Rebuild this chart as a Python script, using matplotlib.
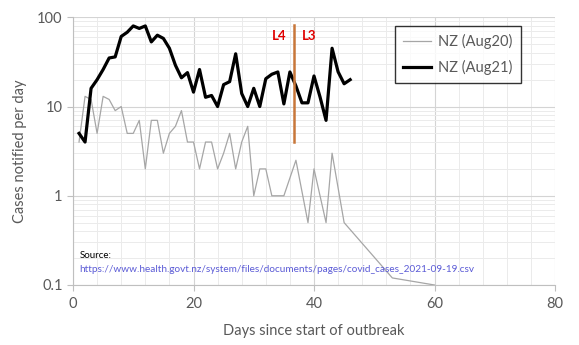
import matplotlib
matplotlib.use('Agg')
import matplotlib.pyplot as plt
from matplotlib.ticker import FixedLocator, NullFormatter

# data
days_aug20 = [1, 2, 3, 4, 5, 6, 7, 8, 9, 10, 11, 12, 13, 14, 15, 16, 17, 18, 19, 20,
              21, 22, 23, 24, 25, 26, 27, 28, 29, 30, 31, 32, 33, 34, 35, 37, 39, 40,
              42, 43, 45, 53, 60]
cases_aug20 = [4, 13, 12, 5, 13, 12, 9, 10, 5, 5, 7, 2, 7, 7, 3, 5, 6, 9, 4, 4,
               2, 4, 4, 2, 3, 5, 2, 4, 6, 1, 2, 2, 1, 1, 1, 2.5, 0.5, 2,
               0.5, 3, 0.5, 0.12, 0.1]

days_aug21 = list(range(1, 47))
cases_aug21 = [5, 4, 16, 20, 26, 35, 36, 61, 68, 80, 75, 80, 53, 63, 58, 45, 29, 21, 24, 14.5,
               26, 12.7, 13.3, 10, 17.6, 19, 39, 14, 10, 16, 10, 20.5, 23, 24.4, 10.7, 24.4,
               17, 11, 11, 22, 12.8, 7, 45, 24.5, 18, 20]

level_change_day = 36.7
level_line = [4, 82]

plt.rcParams['font.family'] = ['Lato', 'DejaVu Sans']
txt = '#595959'

fig = plt.figure(figsize=(5.79, 3.45), dpi=100)
ax = fig.add_axes([73/579, 1-285/345, (555-73)/579, (285-17.3)/345])

ax.plot(days_aug20, cases_aug20, color='#a6a6a6', lw=0.9, label='NZ (Aug20)', zorder=3)
ax.plot(days_aug21, cases_aug21, color='black', lw=2.3, label='NZ (Aug21)', zorder=4)
ax.plot([level_change_day, level_change_day], level_line, color='#c8773a', lw=1.8, zorder=5)

ax.text(level_change_day - 1.3, 62, 'L4', color='#e00000', fontweight='bold', fontsize=9.5, ha='right', va='center')
ax.text(level_change_day + 1.3, 62, 'L3', color='#e00000', fontweight='bold', fontsize=9.5, ha='left', va='center')

ax.set_yscale('log')
ax.set_xlim(0, 80)
ax.set_ylim(0.1, 100)
ax.set_xticks([0, 20, 40, 60, 80])
ax.set_yticks([0.1, 1, 10, 100])
ax.set_yticklabels(['0.1', '1', '10', '100'])
ax.xaxis.set_minor_locator(FixedLocator([i for i in range(4, 80, 4) if i % 20]))
ax.yaxis.set_minor_locator(FixedLocator([m * 10.0**e for e in range(-1, 2) for m in range(2, 10)]))
ax.yaxis.set_minor_formatter(NullFormatter())
ax.grid(which='major', color='#d4d4d4', lw=0.8)
ax.grid(which='minor', color='#ebebeb', lw=0.7)
ax.set_axisbelow(True)

for s in ['top', 'right']:
    ax.spines[s].set_visible(False)
for s in ['left', 'bottom']:
    ax.spines[s].set_color('#bfbfbf')
ax.tick_params(which='major', direction='out', length=4, color='#bfbfbf', labelsize=10.5, labelcolor=txt)
ax.tick_params(which='minor', length=0)
ax.tick_params(axis='x', pad=5)

ax.set_xlabel('Days since start of outbreak', fontsize=10.5, color=txt, labelpad=9)
ax.set_ylabel('Cases notified per day', fontsize=10.5, color=txt, labelpad=7)

leg = ax.legend(loc='upper right', bbox_to_anchor=(0.929, 0.967), borderaxespad=0, fontsize=10.5,
                frameon=True, fancybox=False, edgecolor='black', handlelength=1.9,
                labelspacing=0.75, borderpad=0.55, handletextpad=0.5)
leg.get_frame().set_linewidth(1.0)
for t in leg.get_texts():
    t.set_color(txt)

ax.text(0.013, 0.1, 'Source:', transform=ax.transAxes, fontsize=7, color='black')
ax.text(0.013, 0.05, 'https://www.health.govt.nz/system/files/documents/pages/covid_cases_2021-09-19.csv',
        transform=ax.transAxes, fontsize=7.2, color='#5b5bd6')

plt.savefig('out.png', dpi=100)
